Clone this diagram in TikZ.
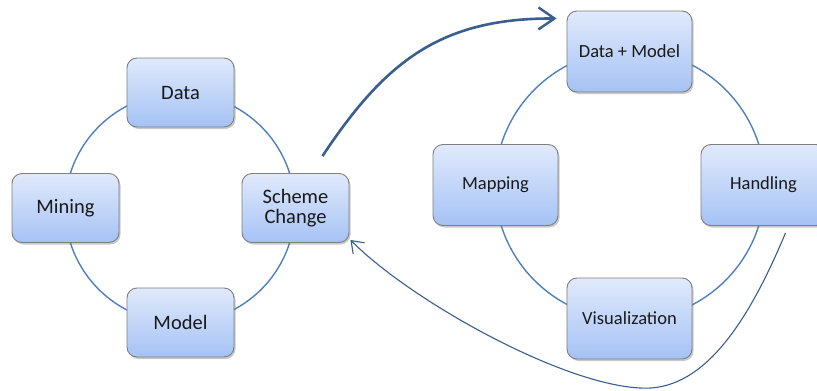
\documentclass[tikz,border=0pt]{standalone}
\usepackage{fontspec}
\setmainfont{Carlito}
\usetikzlibrary{shadows,arrows.meta}
\definecolor{ringblue}{HTML}{4F81BD}
\definecolor{arrowblue}{HTML}{3A5F8E}
\definecolor{boxtop}{HTML}{E0EAFC}
\definecolor{boxbot}{HTML}{A5C2F5}
\definecolor{boxline}{HTML}{7F7F7F}
\tikzset{
  box/.style={draw=boxline, line width=0.9pt, rounded corners=10pt,
    top color=boxtop, bottom color=boxbot, inner sep=0pt, align=center,
    text=black!90, drop shadow={shadow xshift=1.5pt, shadow yshift=-2pt, opacity=0.35, fill=black!60}},
  smallbox/.style={box, minimum width=107pt, minimum height=69pt, font=\fontsize{20.5}{22}\selectfont},
  bigbox/.style={box, minimum width=125pt, minimum height=81pt, font=\fontsize{18.5}{20}\selectfont},
  ring/.style={draw=ringblue, line width=1.4pt},
  flowthick/.style={draw=arrowblue, line width=2.6pt, -{Straight Barb[length=16pt,width=22pt,line width=2.4pt]}},
  flowthin/.style={draw=arrowblue, line width=1.1pt, -{Straight Barb[length=11pt,width=16pt,line width=1.1pt]}}
}
\begin{document}
\begin{tikzpicture}[x=1pt,y=-1pt]
\useasboundingbox (0,0) rectangle (817,391);
\fill[white] (0,0) rectangle (817,391);
% rings
\coordinate (lc) at (180,208);
\coordinate (rc) at (630,185);
\draw[ring] (lc) circle [radius=115pt];
\draw[ring] (rc) circle [radius=135pt];
% left cycle
\node[smallbox] (data) at (180.5,92.5) {Data};
\node[smallbox] (mining) at (65.5,208) {Mining};
\node[smallbox] (scheme) at (295.5,208) {Scheme\\[-2pt]Change};
\node[smallbox] (model) at (180.5,322.5) {Model};
% right cycle
\node[bigbox] (dm) at (629.5,51.5) {Data + Model};
\node[bigbox] (mapping) at (495.5,185) {Mapping};
\node[bigbox] (handling) at (763.5,185) {Handling};
\node[bigbox] (vis) at (629.5,318.5) {Visualization};
% arrows
\coordinate (a1s) at ([xshift=-27pt,yshift=17pt]scheme.north east);
\coordinate (a1e) at ([xshift=-10pt,yshift=33pt]dm.west);
\draw[flowthick] (a1s) .. controls (385,62) and (440,18) .. (a1e);
\coordinate (a2s) at ([xshift=22pt,yshift=-7pt]handling.south);
\coordinate (a2b) at (640,388);
\draw[flowthin] (a2s) .. controls (745,330) and (700,392) .. (a2b)
  .. controls (560,384) and (410,300) .. ([xshift=1pt,yshift=3pt]scheme.south east);
\end{tikzpicture}
\end{document}
